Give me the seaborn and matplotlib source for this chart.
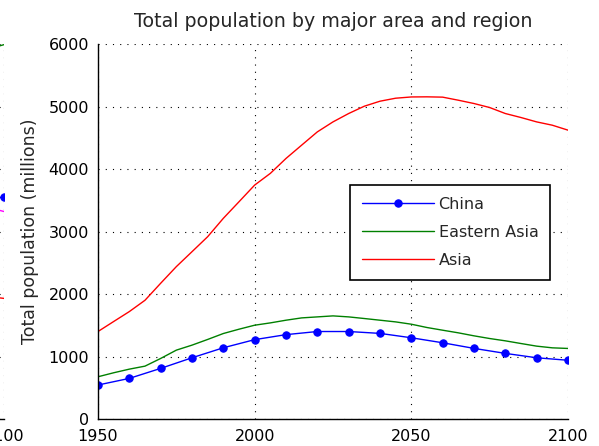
import numpy as np
import pandas as pd
import matplotlib
matplotlib.use('Agg')
import matplotlib.pyplot as plt
import seaborn as sns

# population in millions
years_10 = list(range(1950, 2101, 10))
china = [544, 650, 810, 980, 1140, 1270, 1350, 1400, 1400, 1370,
         1300, 1220, 1130, 1050, 980, 940]

years_5 = list(range(1950, 2101, 5))
eastern_asia = [676, 740, 798, 846, 969, 1102, 1182, 1273, 1368, 1437,
                1501, 1538, 1581, 1618, 1634, 1650, 1634, 1608, 1581, 1554,
                1517, 1464, 1421, 1379, 1331, 1288, 1251, 1208, 1166, 1139, 1129]
asia = [1400, 1560, 1719, 1900, 2172, 2438, 2677, 2917, 3211, 3476,
        3743, 3930, 4169, 4382, 4594, 4754, 4888, 5005, 5085, 5133,
        5153, 5155, 5150, 5101, 5048, 4984, 4888, 4824, 4754, 4701, 4622]

# neighbouring panel, only its right edge is visible
left_years = [2090, 2100]
left_green = [5850, 5990]
left_blue = [3500, 3550]
left_magenta = [3450, 3320]
left_red = [1990, 1930]

sns.set_style('white')
plt.rcParams['font.family'] = ['DejaVu Sans']

fig = plt.figure(figsize=(5.99, 4.46), dpi=100)
ax = fig.add_axes([0.1636, 0.0605, 0.7846, 0.8408])
ax0 = fig.add_axes([0.0067 - 0.7846, 0.0605, 0.7846, 0.8408])

def style_axes(a):
    a.set_xlim(1950, 2100)
    a.set_ylim(0, 6000)
    a.set_xticks([1950, 2000, 2050, 2100])
    a.set_yticks(range(0, 6001, 1000))
    a.grid(True, color='black', linestyle=(0, (1, 5.5)), linewidth=0.8)
    for s in ['top', 'right']:
        a.spines[s].set_visible(False)
    for s in ['left', 'bottom']:
        a.spines[s].set_color('black')
        a.spines[s].set_linewidth(1.0)
    a.tick_params(direction='in', length=4, width=1, colors='black',
                  labelsize=11.5)
    a.tick_params(axis='y', pad=6.5)
    a.tick_params(axis='x', pad=7)
    a.set_xlabel('')
    a.set_ylabel('')

sns.lineplot(x=left_years, y=left_green, color='#008000', lw=1, ax=ax0)
sns.lineplot(x=left_years, y=left_blue, color='blue', lw=1, marker='o',
             markersize=5.3, markeredgecolor='blue', ax=ax0)
sns.lineplot(x=left_years, y=left_magenta, color='magenta', lw=1, ax=ax0)
sns.lineplot(x=left_years, y=left_red, color='red', lw=1, ax=ax0)
style_axes(ax0)

sns.lineplot(x=years_10, y=china, color='blue', lw=1, marker='o',
             markersize=5.3, markeredgecolor='blue', label='China', ax=ax)
sns.lineplot(x=years_5, y=eastern_asia, color='#008000', lw=1,
             label='Eastern Asia', ax=ax)
sns.lineplot(x=years_5, y=asia, color='red', lw=1, label='Asia', ax=ax)
style_axes(ax)
ax.set_ylabel('Total population (millions)', fontsize=12.5, labelpad=7)
ax.set_title('Total population by major area and region', fontsize=13.7, pad=12)

leg = ax.legend(loc='upper left', bbox_to_anchor=(0.536, 0.624), fontsize=11.5,
                handlelength=4.5, handletextpad=0.3, labelspacing=0.8,
                borderpad=0.75, borderaxespad=0,
                fancybox=False, framealpha=1, edgecolor='black')
leg.get_frame().set_linewidth(1.2)

fig.savefig('out.png', dpi=100)
